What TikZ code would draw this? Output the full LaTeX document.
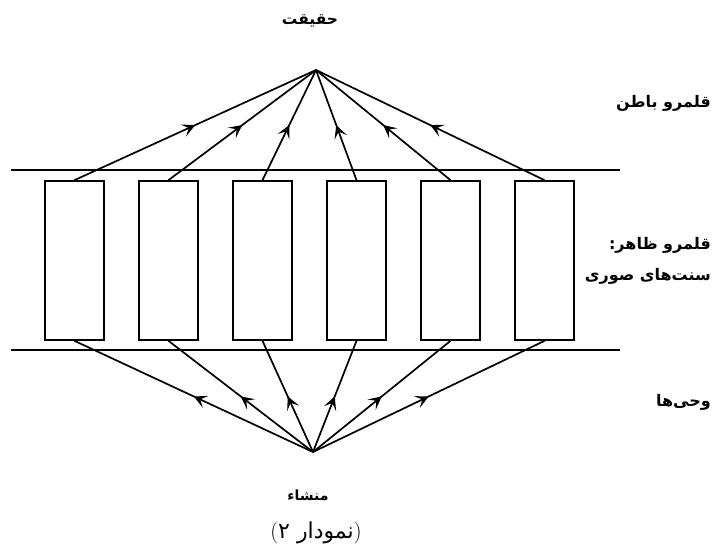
\documentclass[tikz,border=0pt]{standalone}
\usepackage{fontspec}
\usetikzlibrary{arrows.meta, decorations.markings, positioning}
\TeXXeTstate=1
\newfontfamily\arabicfont[Script=Arabic]{DejaVu Sans}

\begin{document}
\begin{tikzpicture}[x=1pt, y=-1pt,
  tradition/.style={draw, line width=1.7pt, minimum width=59pt, minimum height=159pt, inner sep=0pt},
  ray/.style={line width=1.7pt, postaction={decorate},
    decoration={markings, mark=at position 0.5 with {\arrow{Stealth[length=13pt, width=13pt, inset=6pt]}}}},
  realm/.style={font=\arabicfont\bfseries\fontsize{16}{19}\selectfont, anchor=east, inner sep=0pt}]
  \useasboundingbox (0,0) rectangle (713,548);

  % the two borders of the outer realm
  \draw[line width=1.7pt] (11,170) -- (620,170);
  \draw[line width=1.7pt] (11,350) -- (620,350);

  % formal traditions
  \foreach \i in {1,...,6}
    \node[tradition] (b\i) at ({74.5+94*(\i-1)}, 260.5) {};

  \coordinate (top) at (316,70);
  \coordinate (bottom) at (313,452);

  % rays from the origin up to the truth
  \foreach \i in {1,...,6} {
    \draw[ray] (b\i.north) -- (top);
    \draw[ray] (bottom) -- (b\i.south);
  }

  % labels
  \node[font=\arabicfont\bfseries\fontsize{15.5}{18}\selectfont] (truth) at (310,21) {\beginR حقیقت\endR};
  \node[realm] (inner) at (711,103) {\beginR قلمرو باطن\endR};
  \node[realm] (outer) at (711,245) {\beginR قلمرو ظاهر{:}\endR};
  \node[realm] (forms) at (711,276) {\beginR سنت‌های صوری\endR};
  \node[realm] (revel) at (711,402) {\beginR وحی‌ها\endR};
  \node[font=\arabicfont\bfseries\fontsize{14}{17}\selectfont] (source) at (308,495) {\beginR منشاء\endR};
  \node[font=\fontsize{22}{24}\selectfont] (caption) at (316,533) {({\arabicfont\beginR نمودار ۲\endR})};
\end{tikzpicture}
\end{document}
